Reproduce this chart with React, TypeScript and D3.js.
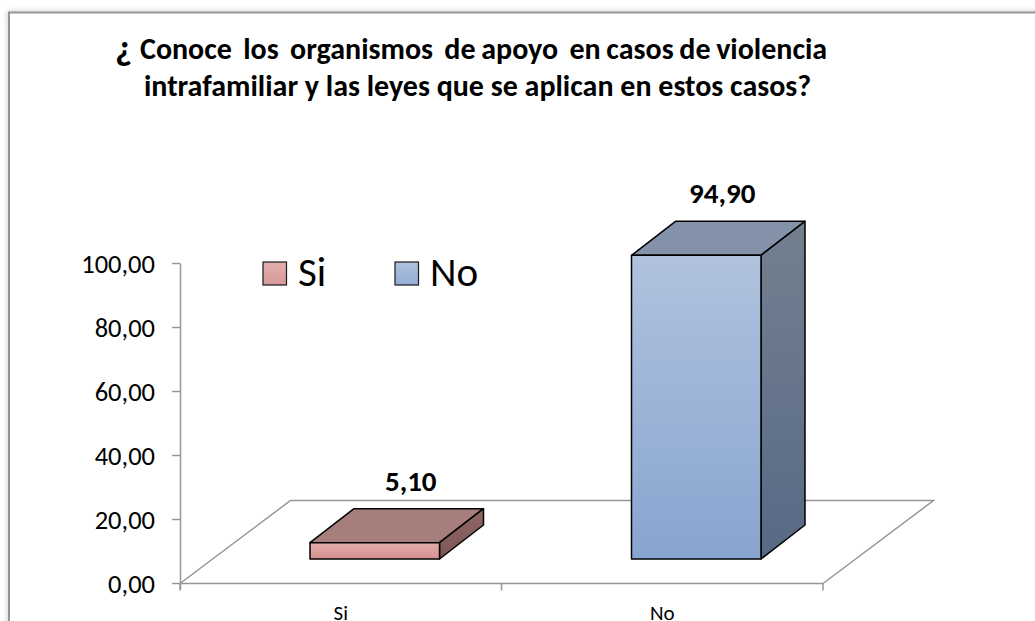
import React from "react";
import * as d3 from "d3";

const categories = ["Si", "No"];
const values = [5.1, 94.9];
const valueLabels = ["5,10", "94,90"];
const yTicks = [0, 20, 40, 60, 80, 100];
const titleMark = "¿";
const titleLines = [
  "Conoce  los  organismos  de apoyo  en casos de violencia",
  "intrafamiliar y las leyes que se aplican en estos casos?",
];
const frontColors = [
  ["#e2aeac", "#d68f8e"],
  ["#b0c2de", "#88a5d0"],
];
const topColors = ["#a67e7c", "#8392a8"];
const sideColors = [
  ["#8f6664", "#7d5756"],
  ["#72808f", "#586986"],
];
const legendColors = [
  ["#e2aeac", "#d89a98"],
  ["#b0c2de", "#94aed6"],
];

const font = "Carlito, Calibri, 'Open Sans', 'Noto Sans', sans-serif";
const axisGrey = "#969696";
const labelShift = [36, 26];

export default function App() {
  const y = d3.scaleLinear().domain([0, 100]).range([583.5, 263.5]);
  const x = d3.scaleBand().domain(categories).range([180, 823]);
  const fmt = (v: number) => v.toFixed(2).replace(".", ",");
  const pxPerUnit = y(0) - y(1);
  const baseY = 559;
  const barW = 129.5;
  const depthX = 44;
  const depthY = 34;
  const floorDX = 110.5;
  const floorDY = 83;
  const line = d3.line();
  return (
    <svg
      width={1035}
      height={621}
      style={{ position: "absolute", left: 0, top: 0, display: "block" }}
      fontFamily={font}
    >
      <defs>
        <filter id="shadow" x="-5%" y="-5%" width="110%" height="110%">
          <feGaussianBlur stdDeviation="2.5" />
        </filter>
        <linearGradient id="side0" x1="0" y1="0" x2="0" y2="1">
          <stop offset="0" stopColor={sideColors[0][0]} />
          <stop offset="1" stopColor={sideColors[0][1]} />
        </linearGradient>
        <linearGradient id="side1" x1="0" y1="0" x2="0" y2="1">
          <stop offset="0" stopColor={sideColors[1][0]} />
          <stop offset="1" stopColor={sideColors[1][1]} />
        </linearGradient>
        {categories.map((c, i) => (
          <React.Fragment key={c}>
            <linearGradient id={`front${i}`} x1="0" y1="0" x2="0" y2="1">
              <stop offset="0" stopColor={frontColors[i][0]} />
              <stop offset="1" stopColor={frontColors[i][1]} />
            </linearGradient>
            <linearGradient id={`legend${i}`} x1="0" y1="0" x2="0" y2="1">
              <stop offset="0" stopColor={legendColors[i][0]} />
              <stop offset="1" stopColor={legendColors[i][1]} />
            </linearGradient>
          </React.Fragment>
        ))}
      </defs>
      <rect width={1035} height={621} fill="#ffffff" />
      <rect x={9} y={12.5} width={1100} height={700} fill="none" stroke="#c4c4c4" strokeWidth={3} filter="url(#shadow)" />
      <rect x={9} y={12.5} width={1100} height={700} fill="#ffffff" stroke="#959595" strokeWidth={2} />

      <text x={115} y={60} fontSize={37} fontWeight={700} fill="#000">
        {titleMark}
      </text>
      {titleLines.map((t, i) => (
        <text
          key={i}
          x={i === 0 ? 140 : 144}
          y={59 + i * 37}
          fontSize={30}
          fontWeight={700}
          fill="#000"
          wordSpacing={i === 0 ? -1.1 : 0}
          style={{ whiteSpace: "pre" }}
        >
          {t}
        </text>
      ))}

      {/* floor */}
      <path
        d={line([
          [180, y(0)],
          [180 + floorDX, y(0) - floorDY],
          [823 + floorDX, y(0) - floorDY],
          [823, y(0)],
        ]) ?? ""}
        fill="none"
        stroke={axisGrey}
        strokeWidth={1.5}
      />
      {/* axes */}
      <line x1={180.5} x2={180.5} y1={y(100)} y2={y(0) + 6} stroke={axisGrey} strokeWidth={1.5} />
      <line x1={180} x2={823} y1={y(0)} y2={y(0)} stroke={axisGrey} strokeWidth={1.5} />
      {yTicks.map((t) => (
        <g key={t}>
          <line x1={172} x2={180} y1={y(t)} y2={y(t)} stroke={axisGrey} strokeWidth={1.5} />
          <text x={155} y={y(t) + 9} textAnchor="end" fontSize={26.5} fill="#000">
            {fmt(t)}
          </text>
        </g>
      ))}
      {[180, 501.5, 823].map((t) => (
        <line key={t} x1={t} x2={t} y1={y(0)} y2={y(0) + 7} stroke={axisGrey} strokeWidth={1.5} />
      ))}
      {categories.map((c) => (
        <text key={c} x={(x(c) ?? 0) + x.bandwidth() / 2} y={620} textAnchor="middle" fontSize={21} fill="#000">
          {c}
        </text>
      ))}

      {/* bars */}
      {categories.map((c, i) => {
        const x0 = (x(c) ?? 0) + x.bandwidth() / 2 - barW / 2 + 34;
        const x1 = x0 + barW;
        const h = values[i] * pxPerUnit;
        const top = baseY - h;
        const topFace = [
          [x0, top],
          [x0 + depthX, top - depthY],
          [x1 + depthX, top - depthY],
          [x1, top],
        ] as [number, number][];
        const sideFace = [
          [x1, top],
          [x1 + depthX, top - depthY],
          [x1 + depthX, baseY - depthY],
          [x1, baseY],
        ] as [number, number][];
        return (
          <g key={c} stroke="#000" strokeWidth={1.5} strokeLinejoin="round">
            <path d={(line(topFace) ?? "") + "Z"} fill={topColors[i]} />
            <path d={(line(sideFace) ?? "") + "Z"} fill={`url(#side${i})`} />
            <rect x={x0} y={top} width={barW} height={h} fill={`url(#front${i})`} />
            <text x={x0 + barW / 2 + labelShift[i]} y={top - depthY - 18} textAnchor="middle" fontSize={29} fontWeight={700} fill="#000" stroke="none">
              {valueLabels[i]}
            </text>
          </g>
        );
      })}

      {/* legend */}
      {categories.map((c, i) => {
        const lx = [263, 395][i];
        return (
          <g key={c}>
            <rect x={lx} y={262} width={23.5} height={23} fill={`url(#legend${i})`} stroke="#1a1a1a" strokeWidth={1.2} />
            <text x={lx + 35} y={285.5} fontSize={41} fill="#000">
              {c}
            </text>
          </g>
        );
      })}
    </svg>
  );
}
